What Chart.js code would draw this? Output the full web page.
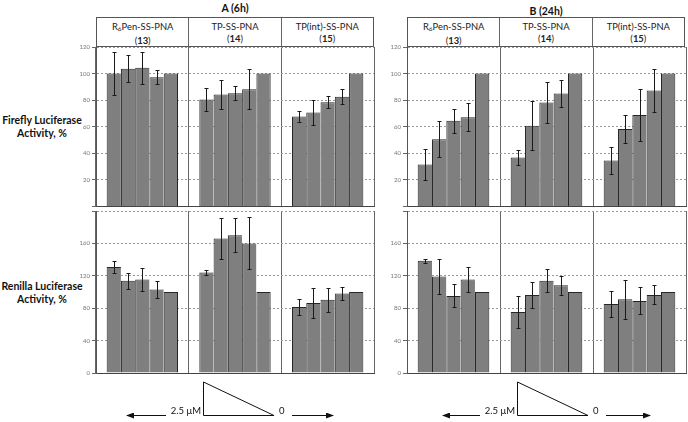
<!DOCTYPE html>
<html>
<head>
<meta charset="utf-8">
<script src="https://cdn.jsdelivr.net/npm/chart.js@4/dist/chart.umd.min.js"></script>
<style>
  body { margin: 0; background: #fff; width: 688px; height: 422px; position: relative; overflow: hidden; font-family: Lato, sans-serif; color: #111; }
  canvas { position: absolute; }
  .title { position: absolute; font-weight: bold; font-size: 10.5px; text-align: center; width: 120px; }
  .head { position: absolute; top: 17px; height: 30px; width: 278px; box-sizing: border-box; border: 1px solid #555; display: flex; background: #fff; }
  .head div { flex: 1; text-align: center; font-size: 9.4px; line-height: 12px; padding-top: 3px; color: #222; }
  .head div + div { border-left: 1px solid #666; }
  .head sub { font-size: 6.5px; vertical-align: -1px; }
  .row { position: absolute; left: 0; width: 84px; text-align: center; font-weight: bold; font-size: 10.5px; line-height: 13px; }
  svg { position: absolute; left: 0; top: 0; }
</style>
</head>
<body>
<div class="title" style="left:175px;top:2px">A (6h)</div>
<div class="title" style="left:486px;top:5px">B (24h)</div>

<div class="head" style="left:96px">
  <div>R<sub>6</sub>Pen-SS-PNA<br>(<b>13</b>)</div>
  <div>TP-SS-PNA<br>(<b>14</b>)</div>
  <div>TP(int)-SS-PNA<br>(<b>15</b>)</div>
</div>
<div class="head" style="left:407px">
  <div>R<sub>6</sub>Pen-SS-PNA<br>(<b>13</b>)</div>
  <div>TP-SS-PNA<br>(<b>14</b>)</div>
  <div>TP(int)-SS-PNA<br>(<b>15</b>)</div>
</div>

<div class="row" style="top:114px">Firefly Luciferase<br>Activity, %</div>
<div class="row" style="top:280px">Renilla Luciferase<br>Activity, %</div>

<canvas id="fireflyA" width="319" height="171" style="left:56px;top:41px"></canvas>
<canvas id="renillaA" width="319" height="175" style="left:56px;top:205px"></canvas>
<canvas id="fireflyB" width="320" height="171" style="left:367px;top:41px"></canvas>
<canvas id="renillaB" width="320" height="175" style="left:367px;top:205px"></canvas>

<svg width="688" height="422">
  <defs>
    <marker id="head" markerWidth="8" markerHeight="6" refX="7" refY="3" orient="auto">
      <path d="M0,0 L8,3 L0,6 z" fill="#111"/>
    </marker>
  </defs>
  <g stroke="#111" stroke-width="1" fill="none">
    <path d="M203.5,382 L203.5,415.5 L274,415.5 Z"/>
    <line x1="166" y1="415.5" x2="127" y2="415.5" marker-end="url(#head)"/>
    <line x1="292" y1="415.5" x2="333" y2="415.5" marker-end="url(#head)"/>
    <path d="M517.5,382 L517.5,415.5 L588,415.5 Z"/>
    <line x1="480" y1="415.5" x2="443" y2="415.5" marker-end="url(#head)"/>
    <line x1="606" y1="415.5" x2="650" y2="415.5" marker-end="url(#head)"/>
  </g>
  <g font-family="Lato, sans-serif" font-size="9.5" fill="#111">
    <text x="201" y="414" text-anchor="end">2.5 μM</text>
    <text x="279" y="414">0</text>
    <text x="515" y="414" text-anchor="end">2.5 μM</text>
    <text x="593" y="414">0</text>
  </g>
</svg>

<script>
// compounds 13, 14, 15; five bars each, from 2.5 uM down to 0
const compounds = ['13', '14', '15'];

// A (6h)
const fireflyA = [
  [100, 103.7, 104.4, 97.3, 100],
  [80.5, 84.2, 85.2, 88.1, 100],
  [67.6, 70.6, 78.5, 82.5, 100],
];
const fireflyAErr = [
  [16.5, 10, 12, 5.5, 0],
  [8.5, 10.8, 5.4, 15, 0],
  [4, 9.6, 4.7, 5.7, 0],
];
const renillaA = [
  [131, 114, 115.5, 103, 100],
  [124, 166, 170, 160, 100],
  [81.5, 86.5, 90.5, 98, 100],
];
const renillaAErr = [
  [7, 10, 14, 11, 0],
  [3.4, 25, 21, 32, 0],
  [10, 19, 15, 8, 0],
];

// B (24h)
const fireflyB = [
  [31.6, 50.6, 64.4, 67.2, 100],
  [36.8, 60.7, 78.3, 85, 100],
  [34.6, 58.3, 68.9, 87.2, 100],
];
const fireflyBErr = [
  [11.7, 13.5, 9, 10.5, 0],
  [5.5, 18.4, 15.5, 10, 0],
  [10.4, 10.3, 19.6, 16.5, 0],
];
const renillaB = [
  [138.6, 119, 95.2, 115.4, 100],
  [75.3, 96.4, 113.8, 108.3, 100],
  [85.2, 91, 89, 96.4, 100],
];
const renillaBErr = [
  [2.2, 21.5, 14.3, 16, 0],
  [20, 16, 14, 12, 0],
  [16.6, 24, 16.7, 11.8, 0],
];

const errorBars = {
  id: 'errorBars',
  afterDatasetsDraw(chart) {
    const ctx = chart.ctx;
    const yScale = chart.scales.y;
    ctx.save();
    ctx.strokeStyle = '#1a1a1a';
    ctx.lineWidth = 1;
    chart.data.datasets.forEach((ds, i) => {
      chart.getDatasetMeta(i).data.forEach((bar, j) => {
        const e = ds.errors[j];
        if (!e) return;
        const x = Math.round(bar.x) + 0.5;
        const top = Math.round(yScale.getPixelForValue(ds.data[j] + e)) + 0.5;
        const bot = Math.round(yScale.getPixelForValue(ds.data[j] - e)) + 0.5;
        ctx.beginPath();
        ctx.moveTo(x, top); ctx.lineTo(x, bot);
        ctx.moveTo(x - 2, top); ctx.lineTo(x + 2, top);
        ctx.moveTo(x - 2, bot); ctx.lineTo(x + 2, bot);
        ctx.stroke();
      });
    });
    ctx.restore();
  },
};

function makeChart(id, values, errors, max, step) {
  const datasets = [0, 1, 2, 3, 4].map((k) => ({
    data: values.map((c) => c[k]),
    errors: errors.map((c) => c[k]),
    backgroundColor: '#7f7f7f',
    borderColor: '#262626',
    // neighbouring bars share one dark edge, the last bar closes the group
    borderWidth: { top: 1, left: 1, right: k === 4 ? 1 : 0, bottom: 0 },
    inflateAmount: 0,
    categoryPercentage: 0.77,
    barPercentage: 1,
  }));
  return new Chart(document.getElementById(id), {
    type: 'bar',
    data: { labels: compounds, datasets },
    options: {
      responsive: false,
      animation: false,
      devicePixelRatio: 1,
      layout: { padding: { top: 6, right: 1, bottom: max === 120 ? 1 : 7, left: 0 } },
      plugins: { legend: { display: false }, tooltip: { enabled: false } },
      scales: {
        x: {
          offset: true,
          ticks: { display: false },
          grid: { offset: true, color: '#666', drawTicks: false },
          border: { color: '#444' },
        },
        y: {
          min: 0,
          max,
          ticks: {
            stepSize: step,
            color: '#777',
            padding: 2,
            font: { family: 'Lato', size: 6 },
            callback: (v) => ((max === 120 && v === 0) || v === max && max !== 120 ? '' : v),
          },
          grid: { color: '#999', tickLength: 4, tickColor: '#666' },
          border: { color: '#555', dash: [2, 2] },
          afterFit: (s) => { s.width = 40; },
        },
      },
    },
    plugins: [errorBars],
  });
}

makeChart('fireflyA', fireflyA, fireflyAErr, 120, 20);
makeChart('renillaA', renillaA, renillaAErr, 200, 40);
makeChart('fireflyB', fireflyB, fireflyBErr, 120, 20);
makeChart('renillaB', renillaB, renillaBErr, 200, 40);
</script>
</body>
</html>
